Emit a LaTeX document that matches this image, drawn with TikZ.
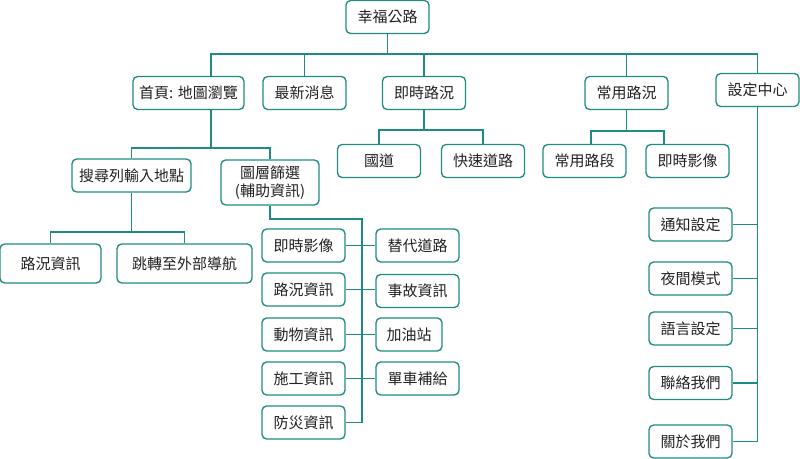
\documentclass[tikz,border=0pt]{standalone}
\usepackage{fontspec}
\setmainfont{Noto Sans CJK TC}
\usepackage{tikz}
\usetikzlibrary{calc}

\definecolor{sitemap}{HTML}{1E8C82}
\definecolor{inktext}{HTML}{222222}

\begin{document}
\begin{tikzpicture}[
    x=0.75pt, y=-0.75pt,
    box/.style={draw=sitemap, line width=1pt, rounded corners=3.5pt, fill=white, text=inktext,
        minimum width=62.25pt, minimum height=24.75pt, inner xsep=3pt, inner ysep=2pt,
        font=\fontsize{11.25}{14}\selectfont, align=center},
    link/.style={draw=sitemap, line width=0.9pt}
]
\useasboundingbox (0,0) rectangle (800,459);

% --- Root and first level ---
\node[box] (root) at (387.5, 17) {幸福公路};

\node[box, minimum width=83.25pt] (home) at (188.5, 93) {首頁: 地圖瀏覽};
\node[box] (news) at (304.5, 93) {最新消息};
\node[box] (live) at (424, 93) {即時路況};
\node[box] (common) at (626.5, 93) {常用路況};
\node[box] (set) at (757.5, 90) {設定中心};

% Rows of the connector buses
\coordinate (r1) at (0, 54);
\coordinate (r2) at (0, 130);
\coordinate (r3) at (0, 131);
\coordinate (r4) at (0, 148);
\coordinate (r5) at (0, 232);

% Tap points that sit off the box centres
\coordinate (hx) at (211, 0);
\coordinate (ca) at (591, 0);
\coordinate (cb) at (664, 0);
\coordinate (ltrunk) at (362, 219);

\draw[link] (root.south) -- (root.south |- r1);
\draw[link] (hx |- home.north) |- (set.north |- r1) -- (set.north);
\draw[link] (news.north) -- (news.north |- r1);
\draw[link] (live.north) -- (live.north |- r1);
\draw[link] (common.north) -- (common.north |- r1);

% --- 即時路況 / 常用路況 ---
\node[box] (highway) at (379, 161) {國道};
\node[box] (express) at (483, 161) {快速道路};
\node[box] (cseg) at (584.5, 161) {常用路段};
\node[box] (ccam) at (687.5, 161) {即時影像};

\draw[link] (live.south) -- (live.south |- r2);
\draw[link] (highway.north) |- (express.north |- r2) -- (express.north);

\draw[link] (common.south) -- (common.south |- r3);
\draw[link] (ca |- cseg.north) |- (cb |- r3) -- (cb |- ccam.north);

% --- 首頁 ---
\node[box, minimum width=89.25pt] (search) at (131.5, 175.5) {搜尋列輸入地點};
\node[box, minimum width=73.5pt, minimum height=33.75pt, inner ysep=1pt] (layer) at (270, 182.5) {圖層篩選\\(輔助資訊)};

\draw[link] (hx |- home.south) -- (hx |- r4);
\draw[link] (search.north) |- (layer.north |- r4) -- (layer.north);

\node[box, minimum width=75.75pt, minimum height=29.25pt] (traffic) at (50.5, 263.5) {路況資訊};
\node[box, minimum width=101.25pt, minimum height=29.25pt] (jump) at (184.5, 263.5) {跳轉至外部導航};

\draw[link] (search.south) -- (search.south |- r5);
\draw[link] (traffic.north) |- (jump.north |- r5) -- (jump.north);

% --- 圖層篩選 ---
\node[box] (l1) at (303.5, 245.5) {即時影像};
\node[box] (l2) at (303.5, 289.5) {路況資訊};
\node[box] (l3) at (303.5, 334.5) {動物資訊};
\node[box] (l4) at (303.5, 378.5) {施工資訊};
\node[box] (l5) at (303.5, 422.5) {防災資訊};

\node[box] (p1) at (417.5, 245.5) {替代道路};
\node[box] (p2) at (417.5, 291) {事故資訊};
\node[box, minimum width=49.5pt] (p3) at (409, 334.5) {加油站};
\node[box] (p4) at (417.5, 378.5) {單車補給};

\draw[link] (layer.south) |- (ltrunk) |- (l5.east);
\draw[link] (l1.east) -- (p1.west);
\draw[link] (l2.east) -- (l2.east -| p2.west);
\draw[link] (l3.east) -- (p3.west);
\draw[link] (l4.east) -- (p4.west);

% --- 設定中心 ---
\node[box] (s1) at (690.5, 224.5) {通知設定};
\node[box] (s2) at (690.5, 278.5) {夜間模式};
\node[box] (s3) at (690.5, 328.5) {語言設定};
\node[box] (s4) at (690.5, 383) {聯絡我們};
\node[box] (s5) at (690.5, 441.5) {關於我們};

\draw[link] (set.south) |- (s5.east);
\draw[link] (s1.east) -- (s1.east -| set.south);
\draw[link] (s2.east) -- (s2.east -| set.south);
\draw[link] (s3.east) -- (s3.east -| set.south);
\draw[link] (s4.east) -- (s4.east -| set.south);

\end{tikzpicture}
\end{document}
